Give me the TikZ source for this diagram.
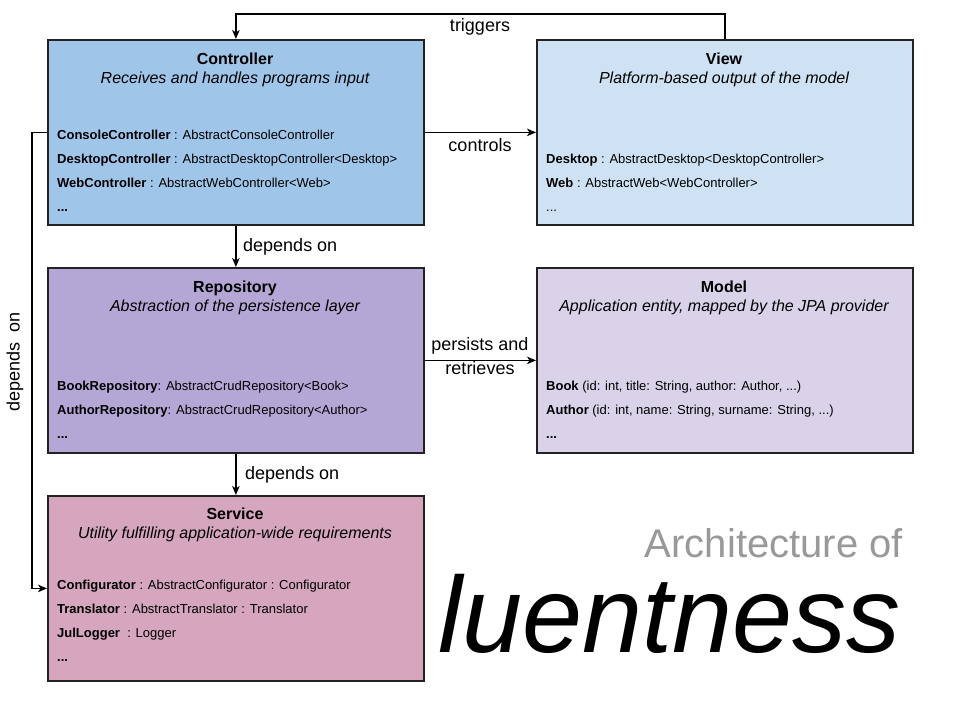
\documentclass[tikz,border=0pt]{standalone}
\usepackage{fontspec}
\setmainfont{Liberation Sans}
\usetikzlibrary{arrows.meta}
\definecolor{cctrl}{HTML}{9FC5E8}
\definecolor{cview}{HTML}{CFE2F3}
\definecolor{crepo}{HTML}{B4A7D6}
\definecolor{cmodel}{HTML}{D9D2E9}
\definecolor{cserv}{HTML}{D5A6BD}
\definecolor{cborder}{HTML}{222222}
\definecolor{cgrey}{HTML}{999999}
\begin{document}
\begin{tikzpicture}[x=1pt,y=-1pt,
  layerbox/.style={draw=cborder, line width=1.8pt, anchor=north west, minimum width=376pt, minimum height=185pt, inner sep=0pt},
  ttl/.style={font=\fontsize{16}{18}\selectfont\bfseries, anchor=base, inner sep=0pt},
  sub/.style={font=\fontsize{16}{18}\selectfont\itshape, anchor=base, inner sep=0pt},
  item/.style={font=\fontsize{13}{15}\selectfont, anchor=base west, inner sep=0pt},
  lbl/.style={font=\fontsize{18}{20}\selectfont, inner sep=0pt},
  conn/.style={line width=1.5pt, draw=black, -{Stealth[length=9pt,width=7.5pt,inset=2.5pt]}},
]
\useasboundingbox (0,0) rectangle (960,720);
\fill[white] (0,0) rectangle (960,720);

% boxes
\node[layerbox, fill=cctrl] (ctrl) at (47,39) {};
\node[layerbox, fill=cview] (view) at (536,39) {};
\node[layerbox, fill=crepo] (repo) at (47,267) {};
\node[layerbox, fill=cmodel] (model) at (536,267) {};
\node[layerbox, fill=cserv] (serv) at (47,495) {};

% Controller
\node[ttl] (ctrlT) at (235,64) {Controller};
\node[sub] (ctrlS) at (235,83) {Receives and handles programs input};
\node[item] (ctrl1) at (57,139) {\textbf{ConsoleController} : AbstractConsoleController};
\node[item] (ctrl2) at (57,163) {\textbf{DesktopController} : AbstractDesktopController<Desktop>};
\node[item] (ctrl3) at (57,187) {\textbf{WebController} : AbstractWebController<Web>};
\node[item] (ctrl4) at (57,211) {\textbf{...}};

% View
\node[ttl] (viewT) at (724,64) {View};
\node[sub] (viewS) at (724,83) {Platform-based output of the model};
\node[item] (view1) at (546,163) {\textbf{Desktop} : AbstractDesktop<DesktopController>};
\node[item] (view2) at (546,187) {\textbf{Web} : AbstractWeb<WebController>};
\node[item] (view3) at (546,211) {...};

% Repository
\node[ttl] (repoT) at (235,292) {Repository};
\node[sub] (repoS) at (235,311) {Abstraction of the persistence layer};
\node[item] (repo1) at (57,390) {\textbf{BookRepository}: AbstractCrudRepository<Book>};
\node[item] (repo2) at (57,414) {\textbf{AuthorRepository}: AbstractCrudRepository<Author>};
\node[item] (repo3) at (57,438) {\textbf{...}};

% Model
\node[ttl] (modelT) at (724,292) {Model};
\node[sub] (modelS) at (724,311) {Application entity, mapped by the JPA provider};
\node[item] (model1) at (546,390) {\textbf{Book} (id: int, title: String, author: Author, ...)};
\node[item] (model2) at (546,414) {\textbf{Author} (id: int, name: String, surname: String, ...)};
\node[item] (model3) at (546,438) {\textbf{...}};

% Service
\node[ttl] (servT) at (235,519) {Service};
\node[sub] (servS) at (235,538) {Utility fulfilling application-wide requirements};
\node[item] (serv1) at (57,589) {\textbf{Configurator} : AbstractConfigurator : Configurator};
\node[item] (serv2) at (57,613) {\textbf{Translator} : AbstractTranslator : Translator};
\node[item] (serv3) at (57,637) {\textbf{JulLogger}\ \ : Logger};
\node[item] (serv4) at (57,661) {\textbf{...}};

% connectors
\draw[conn] (view.north) -- ++(0,-25) -| (ctrl.north);
\draw[conn] (ctrl.east) -- (view.west);
\draw[conn] (ctrl.south) -- (repo.north);
\draw[conn] (repo.east) -- (model.west);
\draw[conn] (repo.south) -- (serv.north);
\draw[conn] (ctrl.west) -- ++(-15,0) |- (serv.west);

% labels
\node[lbl, anchor=base] (lTrig) at (480,31) {triggers};
\node[lbl, anchor=base] (lCtrl) at (480,151) {controls};
\node[lbl, anchor=base west] (lDep1) at (243,251) {depends on};
\node[lbl, anchor=base] (lPers1) at (480,350) {persists and};
\node[lbl, anchor=base] (lPers2) at (480,374) {retrieves};
\node[lbl, anchor=base west] (lDep2) at (245,479) {depends on};
\node[lbl, rotate=90] (lDep3) at (15,362) {depends\ \ on};

% title
\node[anchor=base east, inner sep=0pt, text=cgrey, font=\fontsize{40}{44}\selectfont] (arch) at (903,557) {Architecture of};
\node[anchor=base east, inner sep=0pt, font=\fontsize{108}{120}\selectfont\itshape] (name) at (901,652) {luentness};
\end{tikzpicture}
\end{document}
